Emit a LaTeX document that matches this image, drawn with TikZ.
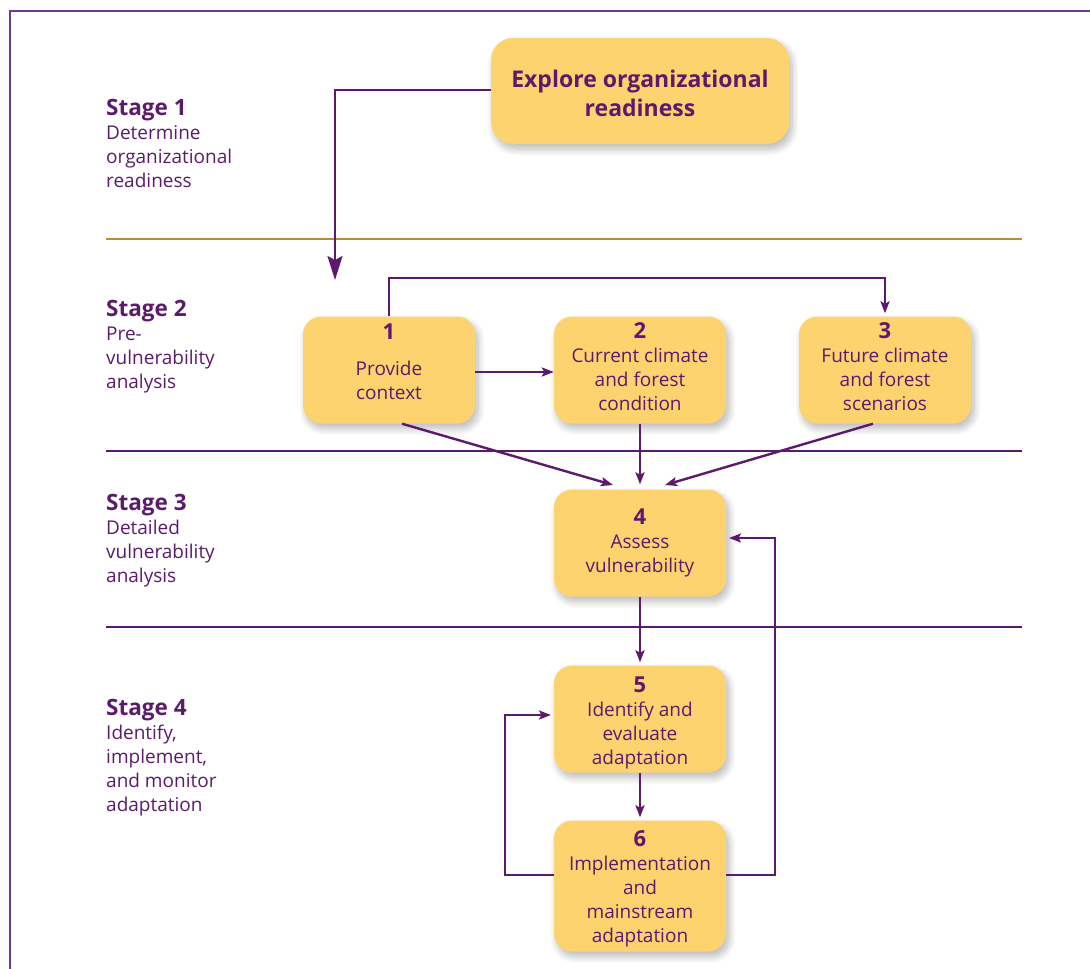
\documentclass[tikz,border=0pt]{standalone}
\usepackage{fontspec}
\setmainfont{Open Sans}
\usetikzlibrary{arrows.meta,shadows.blur}
\definecolor{plum}{HTML}{5B1A6B}
\definecolor{boxfill}{HTML}{FDD36F}
\definecolor{goldline}{HTML}{B8902A}
\definecolor{framec}{HTML}{6A3D8C}
% bold step number, with an optional strut height to nudge the block down
\newcommand\stepnum[2][0pt]{{\fontsize{22}{24}\selectfont\bfseries\rule{0pt}{#1}#2}}
\newcommand\stagehd[1]{{\fontsize{22.5}{24}\selectfont\bfseries #1}}
\newcommand\lowpad{\rule[-6pt]{0pt}{6pt}}

\begin{document}
\begin{tikzpicture}[x=1pt,y=-1pt,
  softshadow/.style={blur shadow={shadow xshift=3pt,shadow yshift=-5pt,
      shadow blur radius=7pt,shadow opacity=28,shadow blur steps=10}},
  stepbox/.style={fill=boxfill,rounded corners=18pt,minimum width=172pt,
      minimum height=107pt,text=plum,align=center,inner sep=0pt,
      font=\fontsize{19}{24}\selectfont,softshadow},
  stagelabel/.style={anchor=base west,inner sep=0pt,text=plum,
      font=\fontsize{19}{24}\selectfont},
  conn/.style={draw=plum,line width=2.4pt,
      -{Stealth[length=12pt,width=9pt,inset=2.5pt]}},
  bigconn/.style={draw=plum,line width=2.4pt,
      -{Stealth[length=24pt,width=15pt,inset=4pt]}},
  divider/.style={line width=2pt}]
\useasboundingbox (0,0) rectangle (1090,969);

% outer frame (open to the right and bottom)
\draw[framec,line width=1.6pt] (1090,11) -- (10,11) -- (10,969);

% stage dividers
\draw[divider,goldline] (106,239) -- (1022,239);
\draw[divider,plum] (106,451) -- (1022,451);
\draw[divider,plum] (106,627) -- (1022,627);

% stage labels
\node[stagelabel] (st1) at (106,115) {\parbox[t]{220pt}{\raggedright
  \stagehd{Stage 1}\\Determine\\organizational\\readiness}};
\node[stagelabel] (st2) at (106,316) {\parbox[t]{220pt}{\raggedright
  \stagehd{Stage 2}\\Pre-\\vulnerability\\analysis}};
\node[stagelabel] (st3) at (106,510) {\parbox[t]{220pt}{\raggedright
  \stagehd{Stage 3}\\Detailed\\vulnerability\\analysis}};
\node[stagelabel] (st4) at (106,715) {\parbox[t]{220pt}{\raggedright
  \stagehd{Stage 4}\\Identify,\\implement,\\and monitor\\adaptation}};

% process boxes
\node[stepbox,minimum width=298pt,minimum height=106pt,rounded corners=22pt,
  font=\fontsize{23}{29}\selectfont\bfseries] (ex) at (640,91)
  {\rule{0pt}{21.5pt}Explore organizational\\readiness};
\node[stepbox] (b1) at (389,370) {\stepnum[22pt]{1}\\[12pt]Provide\\context\\\mbox{}};
\node[stepbox] (b2) at (640,370) {\stepnum{2}\\Current climate\\and forest\\condition\lowpad};
\node[stepbox] (b3) at (885,370) {\stepnum{3}\\Future climate\\and forest\\scenarios\lowpad};
\node[stepbox] (b4) at (640,543) {\stepnum{4}\\Assess\\vulnerability};
\node[stepbox] (b5) at (640,719) {\stepnum[24pt]{5}\\Identify and\\evaluate\\adaptation};
\node[stepbox,minimum height=131pt] (b6) at (640,886)
  {\stepnum[22pt]{6}\\Implementation\\and\\mainstream\\adaptation};

% connector waypoints
\coordinate (exrow) at (0,90);
\coordinate (exdrop) at (335,280);
\coordinate (topbar) at (0,278);
\coordinate (mid12) at (0,372);
\coordinate (in4a) at (613,485);
\coordinate (in4c) at (665,485);
\coordinate (lp) at (505,875);
\coordinate (lq) at (551,715);
\coordinate (rp) at (775,875);
\coordinate (rq) at (729,538);

% connectors
\draw[bigconn] (ex.west |- exrow) -| (exdrop);
\draw[conn,shorten >=3pt] (b1.north) -- (b1.north |- topbar) -| (b3.north);
\draw[conn] (b1.east |- mid12) -- (b2.west |- mid12);
\draw[conn] ([xshift=13pt]b1.south) -- (in4a);
\draw[conn,shorten >=5pt] (b2.south) -- (b4.north);
\draw[conn] ([xshift=-12pt]b3.south) -- (in4c);
\draw[conn,shorten >=3pt] (b4.south) -- (b5.north);
\draw[conn,shorten >=3pt] (b5.south) -- (b6.north);
\draw[conn] (b6.west |- lp) -- (lp) |- (lq);
\draw[conn] (b6.east |- rp) -- (rp) |- (rq);
\end{tikzpicture}
\end{document}
